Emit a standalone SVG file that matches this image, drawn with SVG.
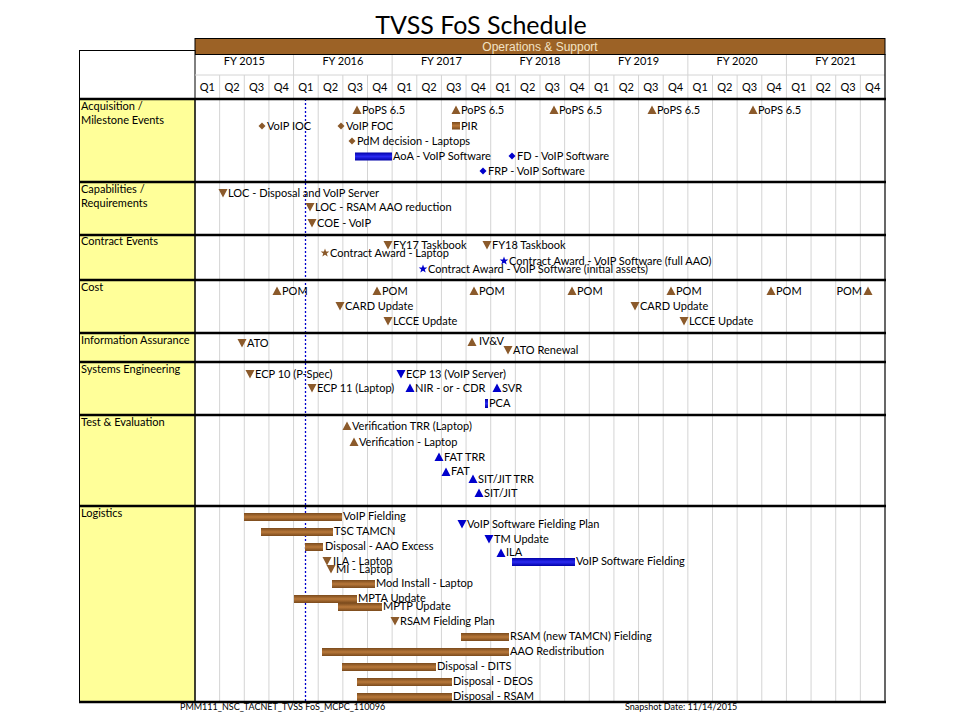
<svg xmlns="http://www.w3.org/2000/svg" width="960" height="720" viewBox="0 0 960 720">
<style>
text{font-family:Lato,"Liberation Sans",sans-serif;font-size:11px;fill:#000}
.t{font-size:11px}
.cat{font-size:11px}
.hd{font-size:11px;text-anchor:middle}
.ft{font-size:9px}
.br{fill:#8b5a2b}
.bl{fill:#0000cc}
.grid{stroke:#d4d4d4;stroke-width:1}
.sep{stroke:#000;stroke-width:2.5}
.bb{fill:url(#gb)}
.bu{fill:url(#gu)}
</style>
<defs>
<linearGradient id="gb" x1="0" y1="0" x2="0" y2="1"><stop offset="0" stop-color="#7a4a1c"/><stop offset="0.5" stop-color="#b8783a"/><stop offset="1" stop-color="#7a4a1c"/></linearGradient>
<linearGradient id="gu" x1="0" y1="0" x2="0" y2="1"><stop offset="0" stop-color="#0000a8"/><stop offset="0.5" stop-color="#2b2bf0"/><stop offset="1" stop-color="#0000a8"/></linearGradient>
<path id="tu" d="M0,-4.5L4.5,4L-4.5,4Z"/>
<path id="td" d="M0,4.5L4.5,-4L-4.5,-4Z"/>
<path id="dm" d="M0,-3.5L3.5,0L0,3.5L-3.5,0Z"/>
<path id="st" d="M0,-4.5L1.1,-1.5L4.3,-1.4L1.8,0.6L2.7,3.6L0,1.8L-2.7,3.6L-1.8,0.6L-4.3,-1.4L-1.1,-1.5Z"/>
</defs>
<rect width="960" height="720" fill="#fff"/>
<text x="481" y="34" style="font-size:25px" text-anchor="middle">TVSS FoS Schedule</text>

<g id="header">
<rect x="195" y="38.5" width="690" height="16" fill="#9c6226" stroke="#000" stroke-width="1"/>
<text x="540" y="50.5" style="font-family:'Liberation Sans',Arial,sans-serif;font-size:12px;fill:#f3e2c4" text-anchor="middle">Operations &amp; Support</text>
<rect x="79.5" y="50.5" width="115.5" height="48.5" fill="#fff" stroke="#000"/>
<g class="grid">
<line x1="195" y1="75" x2="885" y2="75"/>
<line x1="293.57" y1="55" x2="293.57" y2="99"/><line x1="392.14" y1="55" x2="392.14" y2="99"/><line x1="490.71" y1="55" x2="490.71" y2="99"/><line x1="589.29" y1="55" x2="589.29" y2="99"/><line x1="687.86" y1="55" x2="687.86" y2="99"/><line x1="786.43" y1="55" x2="786.43" y2="99"/>
</g>
<text class="hd" x="244.3" y="65">FY 2015</text><text class="hd" x="342.9" y="65">FY 2016</text><text class="hd" x="441.4" y="65">FY 2017</text><text class="hd" x="540" y="65">FY 2018</text><text class="hd" x="638.6" y="65">FY 2019</text><text class="hd" x="737.1" y="65">FY 2020</text><text class="hd" x="835.7" y="65">FY 2021</text>
<g>
<text class="hd" x="207.3" y="91">Q1</text><text class="hd" x="232" y="91">Q2</text><text class="hd" x="256.6" y="91">Q3</text><text class="hd" x="281.3" y="91">Q4</text>
<text class="hd" x="305.9" y="91">Q1</text><text class="hd" x="330.5" y="91">Q2</text><text class="hd" x="355.2" y="91">Q3</text><text class="hd" x="379.8" y="91">Q4</text>
<text class="hd" x="404.5" y="91">Q1</text><text class="hd" x="429.1" y="91">Q2</text><text class="hd" x="453.8" y="91">Q3</text><text class="hd" x="478.4" y="91">Q4</text>
<text class="hd" x="503" y="91">Q1</text><text class="hd" x="527.7" y="91">Q2</text><text class="hd" x="552.3" y="91">Q3</text><text class="hd" x="577" y="91">Q4</text>
<text class="hd" x="601.6" y="91">Q1</text><text class="hd" x="626.3" y="91">Q2</text><text class="hd" x="650.9" y="91">Q3</text><text class="hd" x="675.5" y="91">Q4</text>
<text class="hd" x="700.2" y="91">Q1</text><text class="hd" x="724.8" y="91">Q2</text><text class="hd" x="749.5" y="91">Q3</text><text class="hd" x="774.1" y="91">Q4</text>
<text class="hd" x="798.8" y="91">Q1</text><text class="hd" x="823.4" y="91">Q2</text><text class="hd" x="848" y="91">Q3</text><text class="hd" x="872.7" y="91">Q4</text>
</g>
</g>

<g id="labels">
<rect x="79.5" y="99" width="115.5" height="603" fill="#ffff99" stroke="#000"/>
<text class="cat" x="81" y="110">Acquisition /</text>
<text class="cat" x="81" y="124">Milestone Events</text>
<text class="cat" x="81" y="193">Capabilities /</text>
<text class="cat" x="81" y="207">Requirements</text>
<text class="cat" x="81" y="245">Contract Events</text>
<text class="cat" x="81" y="291">Cost</text>
<text class="cat" x="81" y="344">Information Assurance</text>
<text class="cat" x="81" y="373">Systems Engineering</text>
<text class="cat" x="81" y="426">Test &amp; Evaluation</text>
<text class="cat" x="81" y="517">Logistics</text>
</g>

<g id="grid" class="grid">
<line x1="195" y1="99" x2="195" y2="702" stroke="#000"/>
<line x1="219.64" y1="75" x2="219.64" y2="702"/><line x1="244.29" y1="75" x2="244.29" y2="702"/><line x1="268.93" y1="75" x2="268.93" y2="702"/><line x1="293.57" y1="99" x2="293.57" y2="702"/>
<line x1="318.21" y1="75" x2="318.21" y2="702"/><line x1="342.86" y1="75" x2="342.86" y2="702"/><line x1="367.5" y1="75" x2="367.5" y2="702"/><line x1="392.14" y1="99" x2="392.14" y2="702"/>
<line x1="416.79" y1="75" x2="416.79" y2="702"/><line x1="441.43" y1="75" x2="441.43" y2="702"/><line x1="466.07" y1="75" x2="466.07" y2="702"/><line x1="490.71" y1="99" x2="490.71" y2="702"/>
<line x1="515.36" y1="75" x2="515.36" y2="702"/><line x1="540" y1="75" x2="540" y2="702"/><line x1="564.64" y1="75" x2="564.64" y2="702"/><line x1="589.29" y1="99" x2="589.29" y2="702"/>
<line x1="613.93" y1="75" x2="613.93" y2="702"/><line x1="638.57" y1="75" x2="638.57" y2="702"/><line x1="663.21" y1="75" x2="663.21" y2="702"/><line x1="687.86" y1="99" x2="687.86" y2="702"/>
<line x1="712.5" y1="75" x2="712.5" y2="702"/><line x1="737.14" y1="75" x2="737.14" y2="702"/><line x1="761.79" y1="75" x2="761.79" y2="702"/><line x1="786.43" y1="99" x2="786.43" y2="702"/>
<line x1="811.07" y1="75" x2="811.07" y2="702"/><line x1="835.71" y1="75" x2="835.71" y2="702"/><line x1="860.36" y1="75" x2="860.36" y2="702"/>
</g>
<line x1="885" y1="54" x2="885" y2="702" stroke="#000" stroke-width="1.2"/>
<line x1="305.5" y1="99" x2="305.5" y2="702" stroke="#0000cc" stroke-width="1.3" stroke-dasharray="2,2"/>

<g id="separators" class="sep">
<line x1="79" y1="99" x2="886" y2="99"/>
<line x1="79" y1="182" x2="886" y2="182"/>
<line x1="79" y1="235" x2="886" y2="235"/>
<line x1="79" y1="280" x2="886" y2="280"/>
<line x1="79" y1="333" x2="886" y2="333"/>
<line x1="79" y1="362" x2="886" y2="362"/>
<line x1="79" y1="415" x2="886" y2="415"/>
<line x1="79" y1="506" x2="886" y2="506"/>
<line x1="79" y1="702" x2="886" y2="702"/>
</g>

<g id="acquisition">
<use href="#tu" class="br" x="357" y="110"/><text x="362" y="114">PoPS 6.5</text>
<use href="#tu" class="br" x="456" y="110"/><text x="461" y="114">PoPS 6.5</text>
<use href="#tu" class="br" x="554" y="110"/><text x="559" y="114">PoPS 6.5</text>
<use href="#tu" class="br" x="652" y="110"/><text x="657" y="114">PoPS 6.5</text>
<use href="#tu" class="br" x="753" y="110"/><text x="758" y="114">PoPS 6.5</text>
<use href="#dm" class="br" x="262" y="126"/><text x="267" y="130">VoIP IOC</text>
<use href="#dm" class="br" x="341" y="126"/><text x="346" y="130">VoIP FOC</text>
<rect x="452" y="122" width="8" height="7.5" class="bb"/><text x="461" y="130">PIR</text>
<use href="#dm" class="br" x="352" y="141"/><text x="357" y="145">PdM decision - Laptops</text>
<rect x="355" y="152.5" width="37" height="8" class="bu"/><text x="393" y="160">AoA - VoIP Software</text>
<use href="#dm" class="bl" x="512" y="156"/><text x="517" y="160">FD - VoIP Software</text>
<use href="#dm" class="bl" x="483" y="171"/><text x="488" y="175">FRP - VoIP Software</text>
</g>

<g id="capabilities">
<use href="#td" class="br" x="223" y="193"/><text x="228" y="197">LOC - Disposal and VoIP Server</text>
<use href="#td" class="br" x="310" y="207"/><text x="315" y="211">LOC - RSAM AAO reduction</text>
<use href="#td" class="br" x="312" y="223"/><text x="317" y="227">COE - VoIP</text>
</g>

<g id="contract">
<use href="#td" class="br" x="388" y="245"/><text x="393" y="249">FY17 Taskbook</text>
<use href="#td" class="br" x="487" y="245"/><text x="492" y="249">FY18 Taskbook</text>
<use href="#st" class="br" x="325" y="253"/><text x="330" y="257">Contract Award - Laptop</text>
<use href="#st" class="bl" x="504" y="261"/><text x="509" y="265">Contract Award - VoIP Software (full AAO)</text>
<use href="#st" class="bl" x="423" y="269"/><text x="428" y="273">Contract Award - VoIP Software (initial assets)</text>
</g>

<g id="cost">
<use href="#tu" class="br" x="277" y="291"/><text x="282" y="295">POM</text>
<use href="#tu" class="br" x="377" y="291"/><text x="382" y="295">POM</text>
<use href="#tu" class="br" x="474" y="291"/><text x="479" y="295">POM</text>
<use href="#tu" class="br" x="572" y="291"/><text x="577" y="295">POM</text>
<use href="#tu" class="br" x="671" y="291"/><text x="676" y="295">POM</text>
<use href="#tu" class="br" x="771" y="291"/><text x="776" y="295">POM</text>
<use href="#tu" class="br" x="868" y="291"/><text x="862" y="295" text-anchor="end">POM</text>
<use href="#td" class="br" x="340" y="306"/><text x="345" y="310">CARD Update</text>
<use href="#td" class="br" x="635" y="306"/><text x="640" y="310">CARD Update</text>
<use href="#td" class="br" x="388" y="321"/><text x="393" y="325">LCCE Update</text>
<use href="#td" class="br" x="684" y="321"/><text x="689" y="325">LCCE Update</text>
</g>

<g id="ia">
<use href="#td" class="br" x="242" y="343"/><text x="247" y="347">ATO</text>
<use href="#tu" class="br" x="472" y="342"/><text x="479" y="345">IV&amp;V</text>
<use href="#td" class="br" x="508" y="350"/><text x="513" y="354">ATO Renewal</text>
</g>

<g id="se">
<use href="#td" class="br" x="250" y="374"/><text x="255" y="378">ECP 10 (P-Spec)</text>
<use href="#td" class="br" x="312" y="388"/><text x="317" y="392">ECP 11 (Laptop)</text>
<use href="#td" class="bl" x="401" y="374"/><text x="406" y="378">ECP 13 (VoIP Server)</text>
<use href="#tu" class="bl" x="410" y="388"/><text x="415" y="392">NIR - or - CDR</text>
<use href="#tu" class="bl" x="497" y="388"/><text x="502" y="392">SVR</text>
<rect x="485" y="399" width="3" height="9" class="bu"/><text x="489" y="407">PCA</text>
</g>

<g id="te">
<use href="#tu" class="br" x="347" y="426"/><text x="352" y="430">Verification TRR (Laptop)</text>
<use href="#tu" class="br" x="354" y="442"/><text x="359" y="446">Verification - Laptop</text>
<use href="#tu" class="bl" x="439" y="457"/><text x="444" y="461">FAT TRR</text>
<use href="#tu" class="bl" x="446" y="472"/><text x="451" y="475">FAT</text>
<use href="#tu" class="bl" x="473" y="479"/><text x="478" y="483">SIT/JIT TRR</text>
<use href="#tu" class="bl" x="479" y="493"/><text x="484" y="497">SIT/JIT</text>
</g>

<g id="logistics">
<rect x="244" y="513" width="98" height="8" class="bb"/><text x="343" y="520">VoIP Fielding</text>
<rect x="261" y="528" width="72" height="8" class="bb"/><text x="334" y="535">TSC TAMCN</text>
<rect x="305" y="543" width="18" height="8" class="bb"/><text x="325" y="550">Disposal - AAO Excess</text>
<use href="#td" class="br" x="327" y="561"/><text x="333" y="565">ILA - Laptop</text>
<use href="#td" class="br" x="331" y="569"/><text x="336" y="573">MI - Laptop</text>
<rect x="332" y="580" width="43" height="8" class="bb"/><text x="376" y="587">Mod Install - Laptop</text>
<rect x="294" y="595" width="63" height="8" class="bb"/><text x="358" y="602">MPTA Update</text>
<rect x="338" y="603" width="44" height="8" class="bb"/><text x="383" y="610">MPTP Update</text>
<use href="#td" class="br" x="395" y="621"/><text x="400" y="625">RSAM Fielding Plan</text>
<rect x="461" y="633" width="48" height="8" class="bb"/><text x="510" y="640">RSAM (new TAMCN) Fielding</text>
<rect x="322" y="648" width="187" height="8" class="bb"/><text x="510" y="655">AAO Redistribution</text>
<rect x="342" y="663" width="94" height="8" class="bb"/><text x="437" y="670">Disposal - DITS</text>
<rect x="357" y="678" width="95" height="8" class="bb"/><text x="453" y="685">Disposal - DEOS</text>
<rect x="357" y="693" width="95" height="8" class="bb"/><text x="453" y="700">Disposal - RSAM</text>
<use href="#td" class="bl" x="462" y="524"/><text x="467" y="528">VoIP Software Fielding Plan</text>
<use href="#td" class="bl" x="489" y="539"/><text x="494" y="543">TM Update</text>
<use href="#tu" class="bl" x="501" y="553"/><text x="506" y="556">ILA</text>
<rect x="512" y="558" width="63" height="8" class="bu"/><text x="576" y="565">VoIP Software Fielding</text>
</g>

<g id="footer">
<text class="ft" x="180" y="710">PMM111_NSC_TACNET_TVSS FoS_MCPC_110096</text>
<text class="ft" x="625" y="710">Snapshot Date: 11/14/2015</text>
</g>
</svg>
